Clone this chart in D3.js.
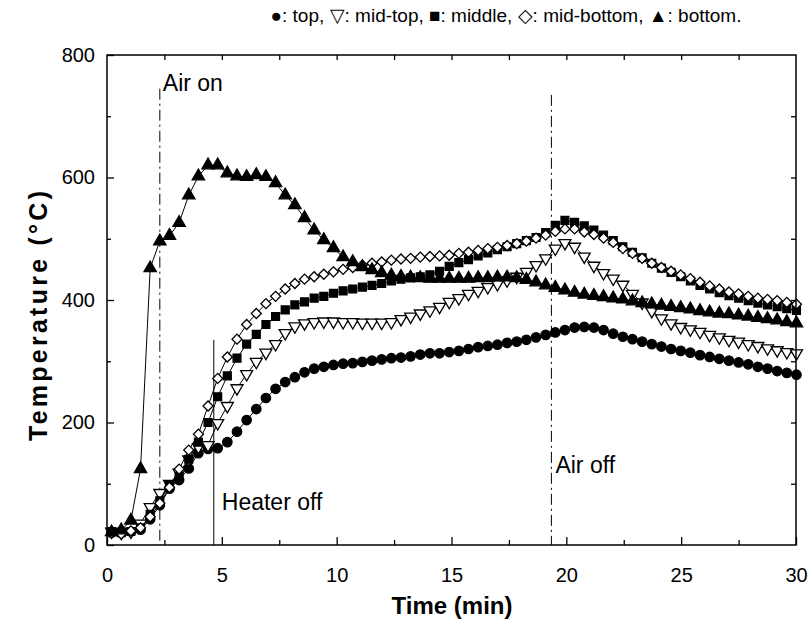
<!DOCTYPE html>
<html><head><meta charset="utf-8">
<script src="https://cdn.jsdelivr.net/npm/d3@7"></script>
<style>
body{margin:0;background:#fff;}
svg{display:block;font-family:"Liberation Sans",Arial,sans-serif;}
</style>
</head><body>
<svg id="c" width="812" height="621"></svg>
<script>
const times=[0.2,0.62,1.04,1.46,1.88,2.3,2.72,3.14,3.56,3.98,4.4,4.82,5.24,5.66,6.08,6.5,6.92,7.34,7.76,8.18,8.6,9.02,9.44,9.86,10.28,10.7,11.12,11.54,11.96,12.38,12.8,13.22,13.64,14.06,14.48,14.9,15.32,15.74,16.16,16.58,17.0,17.42,17.84,18.26,18.68,19.1,19.52,19.94,20.36,20.78,21.2,21.62,22.04,22.46,22.88,23.3,23.72,24.14,24.56,24.98,25.4,25.82,26.24,26.66,27.08,27.5,27.92,28.34,28.76,29.18,29.6,30.02];
const seriesTop=[20,21,22,25,42,65,92,106,125,150,157,158,168,185,204,222,240,255,266,274,282,288,291,294,296,297,299,301,303,305,306,308,311,313,313,315,317,320,323,325,327,330,332,335,339,343,347,351,355,356,355,351,345,340,336,332,328,324,320,317,314,310,307,304,301,298,295,291,288,284,281,278];
const seriesMidTop=[22,20,22,35,62,85,100,118,140,160,163,199,227,256,279,299,314,328,346,357,362,364,365,365,364,364,363,363,363,364,369,373,378,383,389,397,403,410,415,421,426,432,438,446,457,468,484,493,487,471,456,444,435,425,410,396,382,370,362,356,352,348,343,339,335,332,328,325,321,318,315,313];
const seriesMiddle=[22,20,22,28,50,72,98,112,140,168,200,242,276,305,328,344,360,373,384,392,397,403,406,411,415,418,421,424,427,431,434,436,438,441,447,455,461,466,472,477,482,487,492,497,502,510,522,530,527,521,514,506,497,487,478,469,460,452,445,438,431,424,418,412,407,403,399,395,392,389,386,383];
const seriesMidBottom=[20,18,23,28,46,68,94,124,155,181,227,272,307,336,360,378,394,406,418,427,434,438,442,446,450,453,457,460,462,465,467,468,470,471,472,473,476,478,481,484,486,489,492,496,501,506,512,516,516,511,507,501,494,484,476,468,460,453,447,441,435,429,423,418,413,410,406,403,401,399,396,393];
const seriesBottom=[21,24,40,124,452,496,505,526,571,602,620,620,607,602,601,604,601,591,571,555,534,514,498,485,470,462,454,449,444,440,438,437,436,435,435,435,435,435,436,436,437,437,436,433,429,424,420,416,412,409,407,405,403,401,398,395,393,391,389,387,385,382,380,378,377,375,373,371,369,367,364,362];
const seriesNames=["top","mid-top","middle","mid-bottom","bottom"];
const xMajorTicks=[0,5,10,15,20,25,30];
const yMajorTicks=[0,200,400,600,800];
const eventTimes=[2.3,4.65,19.35];
const eventTops=[745,335,735];
const eventLabels=["Air on","Heater off","Air off"];
const legendText="\u25CF: top, \u25BD: mid-top, \u25A0: middle, \u25C7: mid-bottom, \u25B2: bottom.";

const svg=d3.select("#c");
const L=107,R=796,T=55,B=545;
const x=d3.scaleLinear().domain([0,30]).range([L,R]);
const y=d3.scaleLinear().domain([0,800]).range([B,T]);

// vertical event lines
const dashes=["11,4,2,4",null,"11,4,2,4"];
eventTimes.forEach((t,i)=>{
  svg.append("line").attr("x1",x(t)).attr("x2",x(t)).attr("y1",y(eventTops[i])).attr("y2",B)
    .attr("stroke","#000").attr("stroke-width",1).attr("stroke-dasharray",dashes[i]);
});
const labelPos=[[x(eventTimes[0])+3,y(745)+2],[x(eventTimes[1])+8,y(57)],[x(eventTimes[2])+4,y(118)]];
eventLabels.forEach((s,i)=>{
  svg.append("text").attr("x",labelPos[i][0]).attr("y",labelPos[i][1]).attr("font-size",23).text(s);
});

// series
const seriesData=[seriesTop,seriesMidTop,seriesMiddle,seriesMidBottom,seriesBottom];
const symbols=[
  {type:d3.symbolCircle,size:70,fill:"#000",rot:0},
  {type:d3.symbolTriangle,size:62,fill:"#fff",rot:180},
  {type:d3.symbolSquare,size:62,fill:"#000",rot:0},
  {type:d3.symbolSquare,size:50,fill:"#fff",rot:45},
  {type:d3.symbolTriangle,size:66,fill:"#000",rot:0}
];
const line=d3.line().x((d,i)=>x(times[i])).y(d=>y(d));
seriesData.forEach((vals,k)=>{
  svg.append("path").datum(vals).attr("d",line).attr("fill","none").attr("stroke","#000").attr("stroke-width",1);
});
seriesData.forEach((vals,k)=>{
  const s=symbols[k];
  svg.append("g").selectAll("path").data(vals).join("path")
    .attr("d",d3.symbol().type(s.type).size(s.size))
    .attr("transform",(d,i)=>`translate(${x(times[i])},${y(d)}) rotate(${s.rot})`)
    .attr("fill",s.fill).attr("stroke","#000").attr("stroke-width",1.3);
});

// axes
function addAxis(axis,tr){ const g=svg.append("g").attr("transform",tr).call(axis); g.select(".domain").remove(); g.selectAll("line").attr("stroke","#000").attr("stroke-width",1.3); return g;}
const xMinor=d3.range(2.5,30,5), yMinor=d3.range(100,800,200);
const gb=addAxis(d3.axisBottom(x).tickValues(xMajorTicks).tickSizeInner(-8).tickSizeOuter(0).tickPadding(23).tickFormat(d3.format("d")),`translate(0,${B})`);
addAxis(d3.axisBottom(x).tickValues(xMinor).tickSizeInner(-5).tickSizeOuter(0).tickFormat(""),`translate(0,${B})`);
const gl=addAxis(d3.axisLeft(y).tickValues(yMajorTicks).tickSizeInner(-7).tickSizeOuter(0).tickPadding(12).tickFormat(d3.format("d")),`translate(${L},0)`);
addAxis(d3.axisLeft(y).tickValues(yMinor).tickSizeInner(-4).tickSizeOuter(0).tickFormat(""),`translate(${L},0)`);
addAxis(d3.axisTop(x).tickValues(d3.range(2.5,30,2.5)).tickSizeInner(-5).tickSizeOuter(0).tickFormat(""),`translate(0,${T})`);
addAxis(d3.axisRight(y).tickValues(d3.range(100,800,100)).tickSizeInner(-5).tickSizeOuter(0).tickFormat(""),`translate(${R},0)`);
[gb,gl].forEach(g=>g.selectAll("text").attr("font-size",20).attr("fill","#000").attr("font-family",null));
svg.append("rect").attr("x",L).attr("y",T).attr("width",R-L).attr("height",B-T).attr("fill","none").attr("stroke","#000").attr("stroke-width",1.5);

// titles
svg.append("text").attr("x",452).attr("y",614).attr("text-anchor","middle").attr("font-size",24).attr("font-weight","bold").text("Time (min)");
svg.append("text").attr("transform","translate(47,316) rotate(-90)").attr("text-anchor","middle").attr("font-size",25).attr("font-weight","bold")
  .attr("textLength",250).attr("lengthAdjust","spacing")
  .text("Temperature (\u00B0C)");
svg.append("text").attr("x",506).attr("y",22).attr("text-anchor","middle").attr("font-size",19).text(legendText);
</script>
</body></html>
